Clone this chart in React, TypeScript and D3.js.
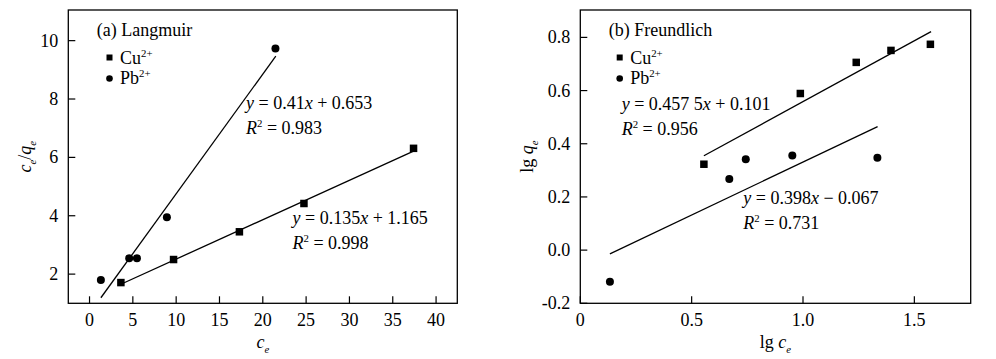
import React from "react";
import * as d3 from "d3";

// ---------- data ----------
const langCuX = [3.62, 9.7, 17.3, 24.75, 37.4];
const langCuY = [1.71, 2.5, 3.45, 4.42, 6.31];
const langPbX = [1.31, 4.58, 5.47, 8.93, 21.46];
const langPbY = [1.8, 2.54, 2.54, 3.95, 9.73];
const langCuFit = { k: 0.135, b: 1.165, x0: 3.62, x1: 37.4 };
const langPbFit = { k: 0.41, b: 0.653, x0: 1.31, x1: 21.5 };
const langXTicks = [0, 5, 10, 15, 20, 25, 30, 35, 40];
const langYTicks = [2, 4, 6, 8, 10];

const freuCuX = [0.555, 0.988, 1.239, 1.395, 1.572];
const freuCuY = [0.323, 0.589, 0.706, 0.751, 0.774];
const freuPbX = [0.133, 0.669, 0.743, 0.952, 1.334];
const freuPbY = [-0.119, 0.267, 0.342, 0.356, 0.347];
const freuCuFit = { k: 0.4575, b: 0.101, x0: 0.555, x1: 1.575 };
const freuPbFit = { k: 0.398, b: -0.067, x0: 0.133, x1: 1.335 };
const freuXTicks = [0, 0.5, 1.0, 1.5];
const freuXTickLabels = ["0", "0.5", "1.0", "1.5"];
const freuYTicks = [-0.2, 0.0, 0.2, 0.4, 0.6, 0.8];
const freuYTickLabels = ["-0.2", "0.0", "0.2", "0.4", "0.6", "0.8"];

const FONT = "'Liberation Serif', 'Times New Roman', serif";
const FS = 18;

type Seg = { t: string; i?: boolean; sup?: boolean; sub?: boolean };

function RichText({ x, y, segs, anchor = "start", size = FS, transform }: { x: number; y: number; segs: Seg[]; anchor?: string; size?: number; transform?: string }) {
  const out: React.ReactNode[] = [];
  let shift = 0;
  segs.forEach((s, idx) => {
    let target = 0;
    if (s.sup) target = -size * 0.38;
    else if (s.sub) target = size * 0.25;
    const dy = target - shift;
    shift = target;
    out.push(
      <tspan key={idx} dy={dy} fontStyle={s.i ? "italic" : "normal"} fontSize={s.sup || s.sub ? size * 0.6 : size}>
        {s.t}
      </tspan>
    );
  });
  return (
    <text x={x} y={y} textAnchor={anchor} fontFamily={FONT} fontSize={size} fill="#000" transform={transform}>
      {out}
    </text>
  );
}

function Square({ cx, cy, s }: { cx: number; cy: number; s: number }) {
  return <rect x={cx - s / 2} y={cy - s / 2} width={s} height={s} fill="#000" />;
}

type Fit = { k: number; b: number; x0: number; x1: number };
type PanelProps = {
  left: number; right: number; top: number; bottom: number;
  xDomain: [number, number]; yDomain: [number, number];
  xTicks: number[]; xTickLabels: string[]; yTicks: number[]; yTickLabels: string[];
  cuX: number[]; cuY: number[]; pbX: number[]; pbY: number[];
  cuFit: Fit; pbFit: Fit;
  title: string;
  xLabel: Seg[]; yLabel: Seg[]; yLabelOffset: number;
  eqCu: { x: number; y: number }; eqPb: { x: number; y: number };
  eqCuText: Seg[]; eqPbText: Seg[]; r2Cu: string; r2Pb: string;
  legendX: number;
};

function Panel(p: PanelProps) {
  const x = d3.scaleLinear().domain(p.xDomain).range([p.left, p.right]);
  const y = d3.scaleLinear().domain(p.yDomain).range([p.bottom, p.top]);
  const fitLine = (f: Fit) =>
    d3.line<number>().x((v) => x(v)).y((v) => y(f.k * v + f.b))([f.x0, f.x1]) || "";
  const cx = (p.left + p.right) / 2;
  const cy = (p.top + p.bottom) / 2;
  return (
    <g>
      <rect x={p.left} y={p.top} width={p.right - p.left} height={p.bottom - p.top} fill="none" stroke="#000" strokeWidth={1.3} />
      {p.xTicks.map((t, i) => (
        <g key={"xt" + i}>
          <line x1={x(t)} x2={x(t)} y1={p.bottom} y2={p.bottom - 7} stroke="#000" strokeWidth={1.2} />
          <text x={x(t)} y={p.bottom + 23} textAnchor="middle" fontFamily={FONT} fontSize={FS}>{p.xTickLabels[i]}</text>
        </g>
      ))}
      {p.yTicks.map((t, i) => (
        <g key={"yt" + i}>
          <line x1={p.left} x2={p.left + 7} y1={y(t)} y2={y(t)} stroke="#000" strokeWidth={1.2} />
          <text x={p.left - 10} y={y(t) + 6} textAnchor="end" fontFamily={FONT} fontSize={FS}>{p.yTickLabels[i]}</text>
        </g>
      ))}
      <path d={fitLine(p.cuFit)} stroke="#000" strokeWidth={1.3} fill="none" />
      <path d={fitLine(p.pbFit)} stroke="#000" strokeWidth={1.3} fill="none" />
      {p.cuX.map((v, i) => <Square key={"c" + i} cx={x(v)} cy={y(p.cuY[i])} s={7.5} />)}
      {p.pbX.map((v, i) => <circle key={"p" + i} cx={x(v)} cy={y(p.pbY[i])} r={4} fill="#000" />)}
      <text x={p.left + 28.5} y={36} fontFamily={FONT} fontSize={FS}>{p.title}</text>
      <Square cx={p.legendX} cy={57.5} s={6} />
      <RichText x={p.legendX + 10.5} y={64} segs={[{ t: "Cu" }, { t: "2+", sup: true }]} />
      <circle cx={p.legendX} cy={78.5} r={3.3} fill="#000" />
      <RichText x={p.legendX + 10.5} y={84} segs={[{ t: "Pb" }, { t: "2+", sup: true }]} />
      <RichText x={p.eqCu.x} y={p.eqCu.y} segs={p.eqCuText} />
      <RichText x={p.eqCu.x} y={p.eqCu.y + 25} segs={[{ t: "R", i: true }, { t: "2", sup: true }, { t: " = " + p.r2Cu }]} />
      <RichText x={p.eqPb.x} y={p.eqPb.y} segs={p.eqPbText} />
      <RichText x={p.eqPb.x} y={p.eqPb.y + 25} segs={[{ t: "R", i: true }, { t: "2", sup: true }, { t: " = " + p.r2Pb }]} />
      <RichText x={cx} y={348} anchor="middle" segs={p.xLabel} />
      <RichText x={0} y={0} anchor="middle" segs={p.yLabel} transform={`translate(${p.left - p.yLabelOffset},${cy}) rotate(-90)`} />
    </g>
  );
}

export default function App() {
  return (
    <svg width={996} height={359} style={{ position: "absolute", left: 0, top: 0, background: "#fff" }}>
      <rect width={996} height={359} fill="#fff" />
      <Panel
        left={68.3} right={457.3} top={10} bottom={303.3}
        xDomain={[-2.45, 42.45]} yDomain={[1, 11.05]}
        xTicks={langXTicks} xTickLabels={langXTicks.map(String)}
        yTicks={langYTicks} yTickLabels={langYTicks.map(String)}
        cuX={langCuX} cuY={langCuY} pbX={langPbX} pbY={langPbY}
        cuFit={langCuFit} pbFit={langPbFit}
        title="(a) Langmuir"
        xLabel={[{ t: "c", i: true }, { t: "e", i: true, sub: true }]}
        yLabel={[{ t: "c", i: true }, { t: "e", i: true, sub: true }, { t: "/" }, { t: "q", i: true }, { t: "e", i: true, sub: true }]}
        yLabelOffset={37}
        eqPb={{ x: 246, y: 108.5 }} eqCu={{ x: 292.5, y: 223.5 }}
        eqPbText={[{ t: "y", i: true }, { t: " = 0.41" }, { t: "x", i: true }, { t: " + 0.653" }]}
        eqCuText={[{ t: "y", i: true }, { t: " = 0.135" }, { t: "x", i: true }, { t: " + 1.165" }]}
        r2Pb="0.983" r2Cu="0.998"
        legendX={109.5}
      />
      <Panel
        left={580.3} right={970.7} top={10} bottom={303.3}
        xDomain={[0, 1.753]} yDomain={[-0.2, 0.903]}
        xTicks={freuXTicks} xTickLabels={freuXTickLabels}
        yTicks={freuYTicks} yTickLabels={freuYTickLabels}
        cuX={freuCuX} cuY={freuCuY} pbX={freuPbX} pbY={freuPbY}
        cuFit={freuCuFit} pbFit={freuPbFit}
        title="(b) Freundlich"
        xLabel={[{ t: "lg " }, { t: "c", i: true }, { t: "e", i: true, sub: true }]}
        yLabel={[{ t: "lg " }, { t: "q", i: true }, { t: "e", i: true, sub: true }]}
        yLabelOffset={47}
        eqCu={{ x: 621.7, y: 109.5 }} eqPb={{ x: 743.3, y: 203.5 }}
        eqCuText={[{ t: "y", i: true }, { t: " = 0.457 5" }, { t: "x", i: true }, { t: " + 0.101" }]}
        eqPbText={[{ t: "y", i: true }, { t: " = 0.398" }, { t: "x", i: true }, { t: " \u2212 0.067" }]}
        r2Cu="0.956" r2Pb="0.731"
        legendX={619.7}
      />
    </svg>
  );
}
